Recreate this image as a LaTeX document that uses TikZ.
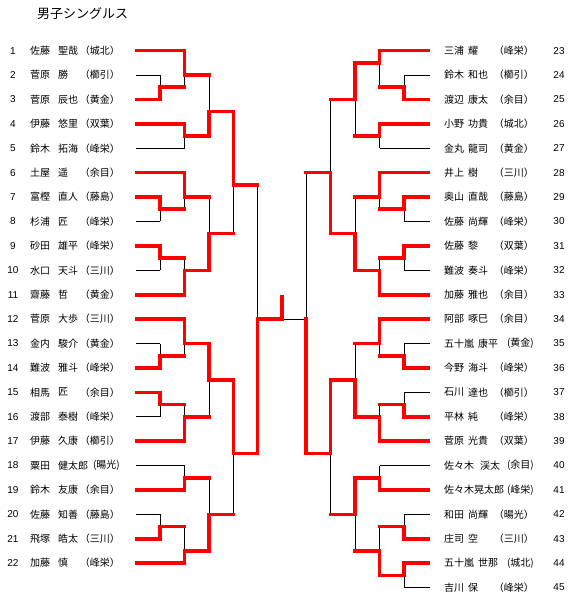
\documentclass[tikz,border=0pt]{standalone}
\usepackage{fontspec}
\setmainfont{Noto Sans CJK JP}
\newfontfamily\numfont{Liberation Sans}
\newif\ifredpass
\tikzset{
 rd/.style={draw=red, line width=3.6pt, line cap=rect, line join=miter},
 bk/.style={draw=black, line width=1pt},
 nm/.style={font=\fontsize{10}{12}\selectfont, inner sep=0pt, anchor=west},
 sc/.style={font=\fontsize{10}{12}\selectfont, inner sep=0pt, anchor=east},
 nu/.style={font=\numfont\fontsize{10}{12}\selectfont, inner sep=0pt},
}
% match: #1 x, #2 next x, #3 ha, #4 hb, #5 h out, #6 h winner
\newcommand\brMatch[6]{\ifredpass\draw[rd] (#1,#6)--(#1,#5)--(#2,#5);\else\draw[bk] (#1,#3)--(#1,#4);\fi}
\newcommand\brWin[3]{\ifredpass\draw[rd] (#1,#3)--(#2,#3);\fi}
\newcommand\brLose[3]{\ifredpass\else\draw[bk] (#1,#3)--(#2,#3);\fi}
\newcommand\PL[6]{%
 \node[nu] (ln#1) at (13,#2) {#3};
 \node[nm] (ls#1) at (30,#2) {#4};
 \node[nm] (lg#1) at (58,#2) {#5};
 \node[sc] (lc#1) at (120,#2) {#6};}
\newcommand\PR[7]{%
 \node[nu] (rn#1) at (559,#2) {#3};
 \node[nm] (rs#1) at (444,#2) {#4};
 \node[nm] (rg#1) at (#5,#2) {#6};
 \node[sc] (rc#1) at (534,#2) {#7};}
\newcommand\bracketall{%
 % left leaves
 \brWin{137}{184.5}{0} \brLose{136}{160}{2} \brWin{137}{160}{4}
 \brWin{137}{184.5}{6} \brLose{136}{184.5}{8}
 \brWin{137}{184.5}{10} \brWin{137}{160}{12} \brLose{136}{160}{14}
 \brWin{137}{160}{16} \brLose{136}{160}{18} \brWin{137}{184.5}{20}
 \brWin{137}{184.5}{22} \brLose{136}{160}{24} \brWin{137}{160}{26}
 \brWin{137}{160}{28} \brLose{136}{160}{30} \brWin{137}{184.5}{32}
 \brLose{136}{184.5}{34} \brWin{137}{184.5}{36}
 \brLose{136}{160}{38} \brWin{137}{160}{40} \brWin{137}{184.5}{42}
 % left matches
 \brMatch{160}{184.5}{2}{4}{3}{4}
 \brMatch{160}{184.5}{12}{14}{13}{12}
 \brMatch{160}{184.5}{16}{18}{17}{16}
 \brMatch{160}{184.5}{24}{26}{25}{26}
 \brMatch{160}{184.5}{28}{30}{29}{28}
 \brMatch{160}{184.5}{38}{40}{39}{40}
 \brMatch{184.5}{209}{0}{3}{2}{0}
 \brMatch{184.5}{209}{6}{8}{7}{6}
 \brMatch{184.5}{209}{10}{13}{12}{10}
 \brMatch{184.5}{209}{17}{20}{18}{20}
 \brMatch{184.5}{209}{22}{25}{24}{22}
 \brMatch{184.5}{209}{29}{32}{30}{32}
 \brMatch{184.5}{209}{34}{36}{35}{36}
 \brMatch{184.5}{209}{39}{42}{41}{42}
 \brMatch{209}{233.5}{2}{7}{5}{7}
 \brMatch{209}{233.5}{12}{18}{15}{18}
 \brMatch{209}{233.5}{24}{30}{27}{24}
 \brMatch{209}{233.5}{35}{41}{38}{41}
 \brMatch{233.5}{257.5}{5}{15}{11}{5}
 \brMatch{233.5}{257.5}{27}{38}{33}{27}
 \brMatch{257.5}{282}{11}{33}{22}{33}
 % right leaves
 \brWin{427.7}{379.5}{0} \brLose{429.5}{404}{2} \brWin{427.7}{404}{4}
 \brWin{427.7}{379.5}{6} \brLose{429.5}{379.5}{8}
 \brWin{427.7}{379.5}{10} \brWin{427.7}{404}{12} \brLose{429.5}{404}{14}
 \brWin{427.7}{404}{16} \brLose{429.5}{404}{18} \brWin{427.7}{379.5}{20}
 \brWin{427.7}{379.5}{22} \brLose{429.5}{404}{24} \brWin{427.7}{404}{26}
 \brLose{429.5}{404}{28} \brWin{427.7}{404}{30} \brWin{427.7}{379.5}{32}
 \brLose{429.5}{379.5}{34} \brWin{427.7}{379.5}{36}
 \brLose{429.5}{404}{38} \brWin{427.7}{404}{40}
 \brWin{427.7}{404}{42} \brLose{429.5}{404}{44}
 % right matches
 \brMatch{404}{379.5}{2}{4}{3}{4}
 \brMatch{404}{379.5}{12}{14}{13}{12}
 \brMatch{404}{379.5}{16}{18}{17}{16}
 \brMatch{404}{379.5}{24}{26}{25}{26}
 \brMatch{404}{379.5}{28}{30}{29}{30}
 \brMatch{404}{379.5}{38}{40}{39}{40}
 \brMatch{404}{379.5}{42}{44}{43}{42}
 \brMatch{379.5}{355}{0}{3}{1}{0}
 \brMatch{379.5}{355}{6}{8}{7}{6}
 \brMatch{379.5}{355}{10}{13}{12}{10}
 \brMatch{379.5}{355}{17}{20}{18}{20}
 \brMatch{379.5}{355}{22}{25}{24}{22}
 \brMatch{379.5}{355}{29}{32}{30}{32}
 \brMatch{379.5}{355}{34}{36}{35}{36}
 \brMatch{379.5}{355}{39}{43}{41}{43}
 \brMatch{355}{330.5}{1}{7}{4}{1}
 \brMatch{355}{330.5}{12}{18}{15}{18}
 \brMatch{355}{330.5}{24}{30}{27}{30}
 \brMatch{355}{330.5}{35}{41}{38}{35}
 \brMatch{330.5}{306}{4}{15}{10}{15}
 \brMatch{330.5}{306}{27}{38}{33}{27}
 % final
 \brLose{306}{282}{22}
 \ifredpass
  \draw[rd] (306,33)--(306,22);
  \draw[rd] (282,22)--(282,20.15);
 \else
  \draw[bk] (306,10)--(306,33);
 \fi
}
\begin{document}
\begin{tikzpicture}[x=1pt,y=-1pt]
\useasboundingbox (0,0) rectangle (581,601);
\node[anchor=west, inner sep=0pt, font=\fontsize{13}{15}\selectfont] (title) at (37,14) {男子シングルス};
\begin{scope}[yshift=-50.7pt, x=1pt, y=-12.2pt]
 \redpassfalse\bracketall
 \redpasstrue\bracketall
 % left players
 \PL{1}{0}{1}{佐藤}{聖哉}{（城北）}
 \PL{2}{2}{2}{菅原}{勝}{（櫛引）}
 \PL{3}{4}{3}{菅原}{辰也}{（黄金）}
 \PL{4}{6}{4}{伊藤}{悠里}{（双葉）}
 \PL{5}{8}{5}{鈴木}{拓海}{（峰栄）}
 \PL{6}{10}{6}{土屋}{遥}{（余目）}
 \PL{7}{12}{7}{富樫}{直人}{（藤島）}
 \PL{8}{14}{8}{杉浦}{匠}{（峰栄）}
 \PL{9}{16}{9}{砂田}{雄平}{（峰栄）}
 \PL{10}{18}{10}{水口}{天斗}{（三川）}
 \PL{11}{20}{11}{齋藤}{哲}{（黄金）}
 \PL{12}{22}{12}{菅原}{大歩}{（三川）}
 \PL{13}{24}{13}{金内}{駿介}{（黄金）}
 \PL{14}{26}{14}{難波}{雅斗}{（峰栄）}
 \PL{15}{28}{15}{相馬}{匠}{（余目）}
 \PL{16}{30}{16}{渡部}{泰樹}{（峰栄）}
 \PL{17}{32}{17}{伊藤}{久康}{（櫛引）}
 \PL{18}{34}{18}{粟田}{健太郎}{(暘光)}
 \PL{19}{36}{19}{鈴木}{友康}{（余目）}
 \PL{20}{38}{20}{佐藤}{知善}{（藤島）}
 \PL{21}{40}{21}{飛塚}{皓太}{（三川）}
 \PL{22}{42}{22}{加藤}{慎}{（峰栄）}
 % right players
 \PR{23}{0}{23}{三浦}{468}{耀}{（峰栄）}
 \PR{24}{2}{24}{鈴木}{468}{和也}{（櫛引）}
 \PR{25}{4}{25}{渡辺}{468}{康太}{（余目）}
 \PR{26}{6}{26}{小野}{468}{功貴}{（城北）}
 \PR{27}{8}{27}{金丸}{468}{龍司}{（黄金）}
 \PR{28}{10}{28}{井上}{468}{樹}{（三川）}
 \PR{29}{12}{29}{奥山}{468}{直哉}{（藤島）}
 \PR{30}{14}{30}{佐藤}{468}{尚輝}{（峰栄）}
 \PR{31}{16}{31}{佐藤}{468}{黎}{（双葉）}
 \PR{32}{18}{32}{難波}{468}{奏斗}{（峰栄）}
 \PR{33}{20}{33}{加藤}{468}{雅也}{（余目）}
 \PR{34}{22}{34}{阿部}{468}{啄巳}{（余目）}
 \PR{35}{24}{35}{五十嵐}{478}{康平}{(黄金)}
 \PR{36}{26}{36}{今野}{468}{海斗}{（峰栄）}
 \PR{37}{28}{37}{石川}{468}{達也}{（櫛引）}
 \PR{38}{30}{38}{平林}{468}{純}{（峰栄）}
 \PR{39}{32}{39}{菅原}{468}{光貴}{（双葉）}
 \PR{40}{34}{40}{佐々木}{480}{渓太}{(余目)}
 \PR{41}{36}{41}{佐々木}{474}{晃太郎}{(峰栄)}
 \PR{42}{38}{42}{和田}{468}{尚輝}{（暘光）}
 \PR{43}{40}{43}{庄司}{468}{空}{（三川）}
 \PR{44}{42}{44}{五十嵐}{478}{世那}{(城北)}
 \PR{45}{44}{45}{吉川}{468}{保}{（峰栄）}
\end{scope}
\end{tikzpicture}
\end{document}
